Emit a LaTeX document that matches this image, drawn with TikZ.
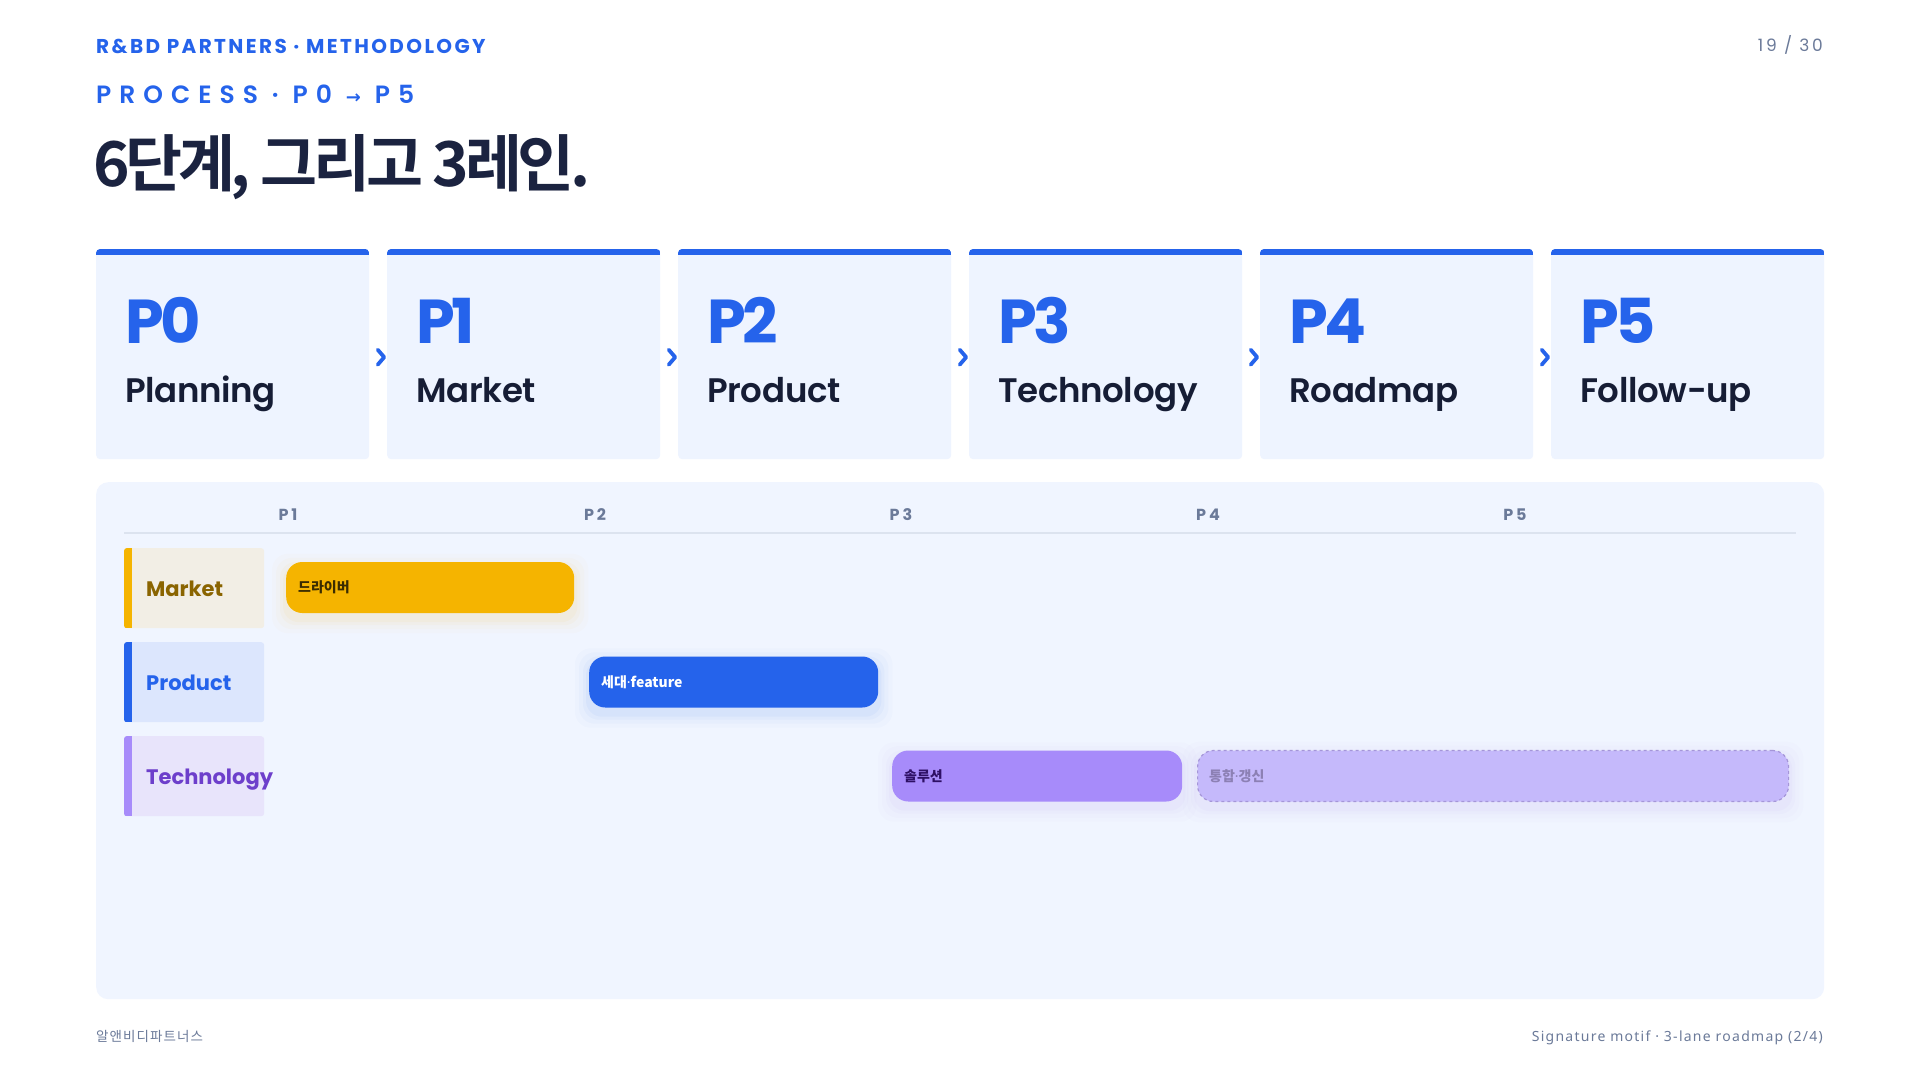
\documentclass[tikz,border=0pt]{standalone}
\usepackage{fontspec}
\usetikzlibrary{calc}
\IfFontExistsTF{Poppins SemiBold}{%
  \newfontfamily\popsb{Poppins SemiBold}[LetterSpace=-1]%
  \newfontfamily\popsbtrack{Poppins SemiBold}[LetterSpace=32]}{%
  \newfontfamily\popsb{Poppins}[FakeBold=0.6]%
  \newfontfamily\popsbtrack{Poppins}[LetterSpace=32,FakeBold=0.6]}
\newfontfamily\pop{Poppins}
\IfFontExistsTF{Noto Sans CJK KR Black}{\newfontfamily\titlefont{Noto Sans CJK KR Black}[LetterSpace=-7]}{\newfontfamily\titlefont{Noto Sans CJK KR}[LetterSpace=-7,BoldFeatures={FakeBold=1.5}]}
\newfontfamily\cjk{Noto Sans CJK KR}
\newfontfamily\cjkfoot{Noto Sans CJK KR}[LetterSpace=8]
\newfontfamily\arrowfont{DejaVu Sans}
\newfontfamily\notolat{Noto Sans}
\newfontfamily\footfont{Noto Sans}[LetterSpace=9]
\newfontfamily\popsp{Poppins}[LetterSpace=18]
\newfontfamily\poppg{Poppins}[LetterSpace=16]
\newfontfamily\pophdr{Poppins}[LetterSpace=12]
\newfontfamily\pnumfont{Poppins}[LetterSpace=-6]

\definecolor{pblue}{HTML}{2563EB}
\definecolor{navy}{HTML}{1B2340}
\definecolor{ink}{HTML}{161D35}
\definecolor{muted}{HTML}{6B7A99}
\definecolor{cardbg}{HTML}{EEF4FF}
\definecolor{panelbg}{HTML}{F0F5FF}
\definecolor{axiscol}{HTML}{DCE3EF}
\definecolor{mkbox}{HTML}{F2EEE5}
\definecolor{mkacc}{HTML}{F5B400}
\definecolor{mktext}{HTML}{8A6400}
\definecolor{mkbartext}{HTML}{3A2C00}
\definecolor{pdbox}{HTML}{DCE6FD}
\definecolor{tcbox}{HTML}{E8E4FB}
\definecolor{tcacc}{HTML}{A78BFA}
\definecolor{tctext}{HTML}{6D3FCB}
\definecolor{tcbartext}{HTML}{2E1065}
\definecolor{tcdash}{HTML}{C5B9FB}
\definecolor{tcdashline}{HTML}{A596D8}
\definecolor{tcdashtext}{HTML}{8C80B4}

\pgfdeclarelayer{back}
\pgfdeclarelayer{shadowlayer}
\pgfsetlayers{back,shadowlayer,main}

\newcommand{\barshadow}[2]{%
  \begin{pgfonlayer}{shadowlayer}
  \foreach \e/\o in {14/0.018,10/0.026,6/0.035,3/0.045}{%
    \fill[#2,opacity=\o,rounded corners=16pt]
      ([xshift=-\e pt,yshift=\e pt-6pt]#1.north west) rectangle
      ([xshift=\e pt,yshift=-\e pt-6pt]#1.south east);
  }
  \end{pgfonlayer}}

\tikzset{
  card/.style={rectangle, fill=cardbg, rounded corners=4pt, inner sep=0pt,
    minimum width=273pt, minimum height=210pt, anchor=north west},
  pnum/.style={anchor=base west, inner sep=0pt, text=pblue,
    font=\pnumfont\bfseries\fontsize{62}{62}\selectfont},
  ptitle/.style={anchor=base west, inner sep=0pt, text=ink,
    font=\popsb\fontsize{34}{34}\selectfont},
  chev/.style={pblue, line width=3.8pt, line cap=round, line join=round},
  lanebox/.style={rectangle, rounded corners=3pt, inner sep=0pt,
    minimum width=140pt, minimum height=80pt, anchor=north west},
  lanelabel/.style={anchor=base west, inner sep=0pt,
    font=\pop\bfseries\fontsize{21}{21}\selectfont},
  gbar/.style={rectangle, rounded corners=16pt, inner sep=0pt,
    minimum height=51pt, anchor=west},
  bartext/.style={anchor=base west, inner sep=0pt,
    font=\cjk\bfseries\fontsize{14}{14}\selectfont},
  axlabel/.style={anchor=base, inner sep=0pt, text=muted,
    font=\popsp\bfseries\fontsize{16}{16}\selectfont},
}

\begin{document}
\begin{tikzpicture}[x=1pt,y=-1pt]
\useasboundingbox (0,0) rectangle (1920,1080);
\begin{pgfonlayer}{back}
\fill[white] (0,0) rectangle (1920,1080);
\end{pgfonlayer}

% header
\node[anchor=base west, inner sep=0pt, text=pblue,
  font=\pophdr\bfseries\fontsize{20}{20}\selectfont] (hdr) at (96,53)
  {R\&BD PARTNERS · METHODOLOGY};
\node[anchor=base east, inner sep=0pt, text=muted,
  font=\poppg\fontsize{17}{17}\selectfont] (pg) at (1823,51) {19 / 30};
\node[anchor=base west, inner sep=0pt, text=pblue,
  font=\popsbtrack\fontsize{25}{25}\selectfont] (proc) at (96,103)
  {PROCESS · P0 {\arrowfont\fontsize{18}{18}\selectfont\bfseries →} P5};
\node[anchor=base west, inner sep=0pt, text=navy,
  font=\titlefont\bfseries\fontsize{62}{62}\selectfont] (title) at (93,186)
  {6단계, 그리고 3레인.};

% phase cards
\foreach \i/\num/\name in {0/P0/Planning,1/P1/Market,2/P2/Product,3/P3/Technology,4/P4/Roadmap,5/P5/Follow-up}{
  \pgfmathsetmacro{\xx}{96+\i*291}
  \node[card] (c\i) at (\xx,249) {};
  \begin{scope}
    \clip[rounded corners=4pt] (c\i.north west) rectangle (c\i.south east);
    \fill[pblue] (c\i.north west) rectangle ([yshift=-6pt]c\i.north east);
  \end{scope}
  \node[pnum] (n\i) at (\xx+29,343) {\num};
  \node[ptitle] (t\i) at (\xx+29,402) {\name};
}
% chevrons between cards
\foreach \i [evaluate=\i as \j using int(\i+1)] in {0,...,4}{
  \coordinate (m\i) at ($(c\i.east)!0.5!(c\j.west)+(3,3)$);
  \draw[chev] ($(m\i)+(-3.5,-7.5)$) -- ($(m\i)+(3,0)$) -- ($(m\i)+(-3.5,7.5)$);
}

% roadmap panel
\begin{pgfonlayer}{back}
\node[rectangle, fill=panelbg, rounded corners=12pt, inner sep=0pt,
  minimum width=1728pt, minimum height=517pt, anchor=north west] (panel) at (96,482) {};
\end{pgfonlayer}

\coordinate (axL) at (124,533);
\coordinate (axR) at (1796,533);
\draw[axiscol, line width=2pt] (axL) -- (axR);
\foreach \k/\xx in {1/288,2/595,3/901,4/1208,5/1515}{
  \node[axlabel] (ax\k) at (\xx,520) {P\k};
}

% lane labels
\node[lanebox, fill=mkbox] (lm) at (124,548) {};
\node[lanebox, fill=pdbox] (lp) at (124,642) {};
\node[lanebox, fill=tcbox] (lt) at (124,736) {};
\foreach \l/\c in {lm/mkacc,lp/pblue,lt/tcacc}{
  \begin{scope}
    \clip[rounded corners=3pt] (\l.north west) rectangle (\l.south east);
    \fill[\c] (\l.north west) rectangle ([xshift=8pt]\l.south west);
  \end{scope}
}
\node[lanelabel, text=mktext] (lmt) at (146,596) {Market};
\node[lanelabel, text=pblue] (lpt) at (146,690) {Product};
\node[lanelabel, text=tctext] (ltt) at (146,784) {Technology};

% bars
\node[gbar, fill=mkacc, minimum width=288pt] (b1) at (286,587.5) {};
\node[gbar, fill=pblue, minimum width=289pt] (b2) at (589,682) {};
\node[gbar, fill=tcacc, minimum width=290pt] (b3) at (892,776) {};
\node[gbar, fill=tcdash, draw=tcdashline, dashed, line width=1.2pt, minimum width=591pt] (b4) at (1197,776) {};
\barshadow{b1}{mkacc}
\barshadow{b2}{pblue}
\barshadow{b3}{tcacc}
\barshadow{b4}{tcacc}

\node[bartext, text=mkbartext] (b1t) at ([xshift=12pt,yshift=-5pt]b1.west) {드라이버};
\node[bartext, text=white] (b2t) at ([xshift=12pt,yshift=-5pt]b2.west) {세대{\notolat ·}feature};
\node[bartext, text=tcbartext] (b3t) at ([xshift=12pt,yshift=-5pt]b3.west) {솔루션};
\node[bartext, text=tcdashtext] (b4t) at ([xshift=12pt,yshift=-5pt]b4.west) {통합{\notolat ·}갱신};

% footer
\node[anchor=base west, inner sep=0pt, text=muted,
  font=\cjkfoot\fontsize{13.5}{13.5}\selectfont] (fl) at (96,1041) {알앤비디파트너스};
\node[anchor=base east, inner sep=0pt, text=muted,
  font=\footfont\fontsize{14}{14}\selectfont] (fr) at (1823,1041)
  {Signature motif · 3-lane roadmap (2/4)};
\end{tikzpicture}
\end{document}
